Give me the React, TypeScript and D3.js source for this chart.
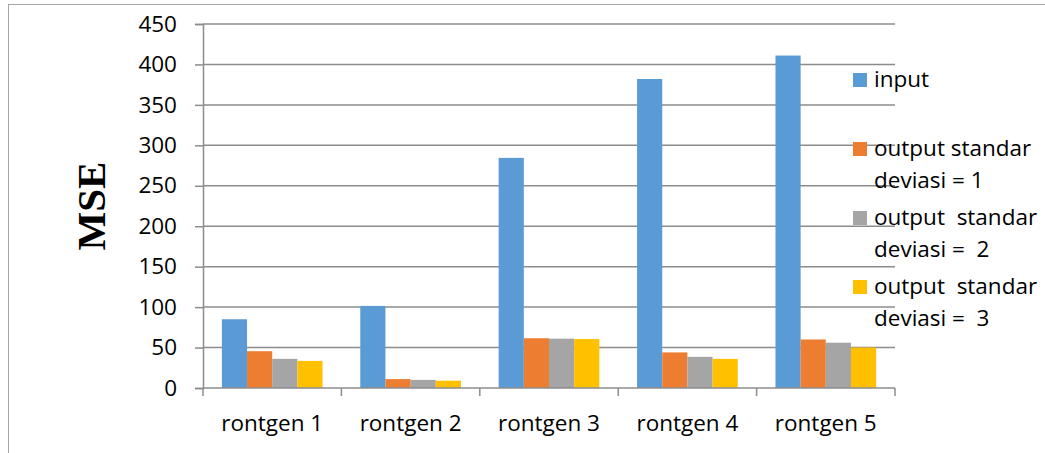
import React, { useEffect, useRef } from 'react'
import * as d3 from 'd3'

const categories = ['rontgen 1', 'rontgen 2', 'rontgen 3', 'rontgen 4', 'rontgen 5']
const seriesNames = ['input', 'output standar deviasi = 1', 'output  standar deviasi =  2', 'output  standar deviasi =  3']
const legendLines = [
  ['input'],
  ['output standar', 'deviasi = 1'],
  ['output  standar', 'deviasi =  2'],
  ['output  standar', 'deviasi =  3'],
]
const inputValues = [85, 101.5, 284.5, 382, 411]
const sd1Values = [45.5, 11, 61.5, 44, 60]
const sd2Values = [36, 10, 61, 38.5, 56]
const sd3Values = [33.5, 9, 60.5, 36, 50]
const yTicks = [0, 50, 100, 150, 200, 250, 300, 350, 400, 450]
const colors = ['#5B9BD5', '#ED7D31', '#A5A5A5', '#FFC000']

const App = () => {
  const ref = useRef<SVGSVGElement>(null)

  useEffect(() => {
    const svg = d3.select(ref.current)
    svg.selectAll('*').remove()

    const left = 203, right = 895, top = 24, bottom = 388
    const font = '"Open Sans", sans-serif'
    const fs = 22.5
    const allSeries = [inputValues, sd1Values, sd2Values, sd3Values]

    // outer chart frame
    svg.append('rect')
      .attr('x', 8.5).attr('y', 4.5)
      .attr('width', 1050).attr('height', 470)
      .attr('fill', 'none').attr('stroke', '#a6a6a6').attr('stroke-width', 1)

    const x0 = d3.scaleBand<string>()
      .domain(categories)
      .range([left, right])
      .paddingInner(1.5 / 5.5)
      .paddingOuter(0.75 / 5.5)

    const x1 = d3.scaleBand<string>()
      .domain(seriesNames)
      .range([0, x0.bandwidth()])

    const y = d3.scaleLinear().domain([0, 450]).range([bottom, top])

    // gridlines
    svg.append('g').selectAll('line')
      .data(yTicks.filter(t => t > 0))
      .enter().append('line')
      .attr('x1', left).attr('x2', right)
      .attr('y1', d => y(d)).attr('y2', d => y(d))
      .attr('stroke', '#8c8c8c').attr('stroke-width', 1.5)

    // y axis
    const yAxis = d3.axisLeft(y).tickValues(yTicks).tickSize(8).tickPadding(18)
    const gy = svg.append('g').attr('transform', `translate(${left},0)`).call(yAxis)
    gy.select('.domain').attr('stroke', '#8c8c8c').attr('stroke-width', 1.5)
    gy.selectAll('.tick line').attr('stroke', '#8c8c8c').attr('stroke-width', 1.5)
    gy.selectAll('.tick text')
      .attr('font-family', font).attr('font-size', fs).attr('fill', '#000')

    // bars
    categories.forEach((c, ci) => {
      const g = svg.append('g').attr('transform', `translate(${x0(c)},0)`)
      g.selectAll('rect')
        .data(allSeries.map((s, si) => ({ name: seriesNames[si], value: s[ci], color: colors[si] })))
        .enter().append('rect')
        .attr('x', d => x1(d.name)!)
        .attr('width', x1.bandwidth())
        .attr('y', d => y(d.value))
        .attr('height', d => bottom - y(d.value))
        .attr('fill', d => d.color)
    })

    // x axis
    const step = x0.step()
    const boundaries = d3.range(categories.length + 1).map(i => left + i * step)
    svg.append('line')
      .attr('x1', left).attr('x2', right)
      .attr('y1', bottom).attr('y2', bottom)
      .attr('stroke', '#8c8c8c').attr('stroke-width', 1.5)
    svg.append('g').selectAll('line')
      .data(boundaries)
      .enter().append('line')
      .attr('x1', d => d).attr('x2', d => d)
      .attr('y1', bottom).attr('y2', bottom + 8)
      .attr('stroke', '#8c8c8c').attr('stroke-width', 1.5)
    svg.append('g').selectAll('text')
      .data(categories)
      .enter().append('text')
      .attr('x', d => x0(d)! + x0.bandwidth() / 2)
      .attr('y', 431)
      .attr('text-anchor', 'middle')
      .attr('font-family', font).attr('font-size', fs)
      .text(d => d)

    // y title
    svg.append('text')
      .attr('transform', 'translate(105,206) rotate(-90)')
      .attr('text-anchor', 'middle')
      .attr('font-family', '"Liberation Serif", "Times New Roman", serif')
      .attr('font-weight', 'bold')
      .attr('font-size', 41)
      .text('MSE')

    // legend
    const legendTops = [73, 142, 211, 280]
    const legend = svg.append('g')
    legendLines.forEach((lines, i) => {
      legend.append('rect')
        .attr('x', 853).attr('y', legendTops[i])
        .attr('width', 14).attr('height', 14)
        .attr('fill', colors[i])
      lines.forEach((ln, li) => {
        legend.append('text')
          .attr('x', 874)
          .attr('y', legendTops[i] + 14 + li * 32)
          .attr('font-family', font).attr('font-size', fs)
          .style('white-space', 'pre')
          .text(ln)
      })
    })
  }, [])

  return (
    <svg ref={ref} width={1045} height={453}
      style={{ position: 'absolute', left: 0, top: 0, background: '#fff' }} />
  )
}

export default App
